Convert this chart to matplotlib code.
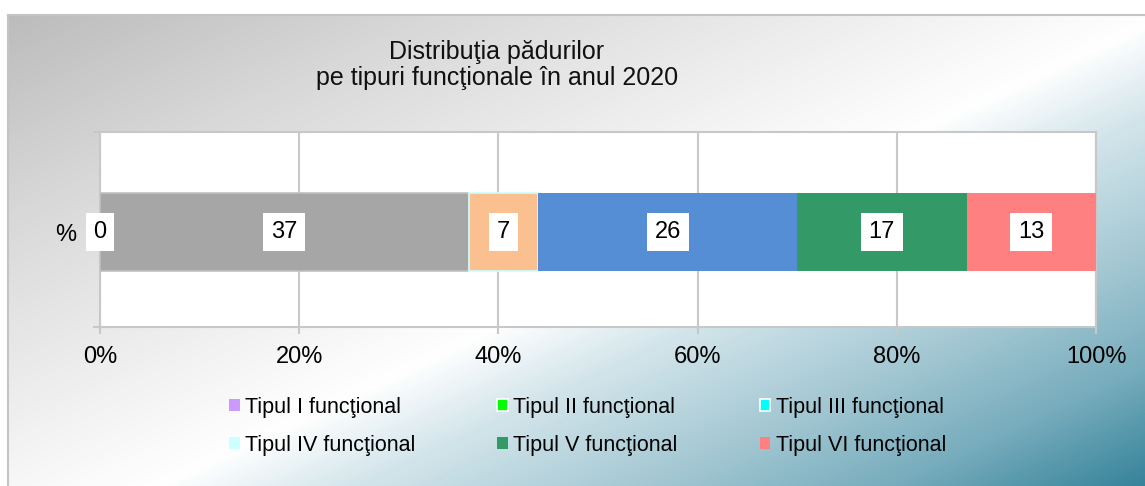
import matplotlib
matplotlib.use('Agg')
import matplotlib.pyplot as plt
from matplotlib.patches import Patch
from matplotlib.colors import LinearSegmentedColormap
import numpy as np

plt.rcParams['font.family'] = ['Liberation Sans', 'DejaVu Sans']

# data
series = ['Tipul I funcţional', 'Tipul II funcţional', 'Tipul III funcţional',
          'Tipul IV funcţional', 'Tipul V funcţional', 'Tipul VI funcţional']
values = [0, 37, 7, 26, 17, 13]
bar_colors = ['#cc99ff', '#a6a6a6', '#fac090', '#558ed5', '#339966', '#ff8080']
legend_colors = ['#cc99ff', '#00ff00', '#00ffff', '#ccffff', '#339966', '#ff8080']
legend_edges = ['none', 'white', 'white', 'none', 'none', 'none']
ticks = [0, 20, 40, 60, 80, 100]
title = 'Distribuţia pădurilor\npe tipuri funcţionale în anul 2020'

W, H = 1145, 486
fig = plt.figure(figsize=(W/100, H/100), dpi=100)

# chart area background gradient
bg = fig.add_axes([8/W, 0, (W-8)/W, (H-15)/H])
bw, bh = W-8, H-15
xx, yy = np.meshgrid(np.arange(bw), np.arange(bh))
t = (0.42*xx + 0.9*yy) / (0.42*bw + 0.9*bh)
cmap = LinearSegmentedColormap.from_list('bg', [
    (0.0, '#bcbcbc'), (0.2, '#d8d8d8'), (0.54, '#ffffff'),
    (0.63, '#d3e5eb'), (0.76, '#a6c9d4'), (0.88, '#78adbd'), (1.0, '#36839a')])
bg.imshow(t, cmap=cmap, vmin=0, vmax=1, aspect='auto', interpolation='bilinear')
bg.set_xticks([])
bg.set_yticks([])
for s in ['right', 'bottom']:
    bg.spines[s].set_visible(False)
for s in ['left', 'top']:
    bg.spines[s].set_color('#c4c4c4')
    bg.spines[s].set_linewidth(1.5)

ax = fig.add_axes([100/W, (H-327)/H, 996/W, 195/H])
ax.set_facecolor('white')

left = 0
for v, c in zip(values, bar_colors):
    ec = '#ccffff' if v == 7 else ('#c0c0c0' if v == 37 else 'none')
    ax.barh(1, v, left=left, height=0.4, color=c, edgecolor=ec, linewidth=1.2, zorder=3)
    ax.text(left + v/2, 1, str(v), ha='center', va='center', fontsize=17,
            color='#000000', zorder=4,
            bbox=dict(boxstyle='square,pad=0.33', fc='white', ec='none'))
    left += v

lo, hi = 0.513, 1.513
ax.set_xlim(0, 100)
ax.set_ylim(lo, hi)
ax.set_xticks(ticks, [f'{v}%' for v in ticks])
ax.set_yticks([lo, hi], ['', ''])
ax.set_yticks([1], ['%'], minor=True)
ax.tick_params(axis='y', which='minor', length=0, pad=17, labelsize=17)
ax.tick_params(axis='both', which='major', direction='out', length=5,
               color='#c8c8c8', width=1.5, labelsize=17)
ax.tick_params(axis='x', pad=9)
ax.grid(axis='x', color='#c8c8c8', linewidth=1.5, zorder=1)
ax.set_axisbelow(True)
for s in ax.spines.values():
    s.set_color('#c8c8c8')
    s.set_linewidth(1.5)

fig.text(497/W, 1 - 65/H, title, ha='center', va='center', fontsize=18,
         linespacing=1.08, color='#111111')

# legend is filled row by row in the reference
order = [0, 3, 1, 4, 2, 5]
handles = [Patch(facecolor=legend_colors[i], edgecolor=legend_edges[i], linewidth=1.2)
           for i in order]
labels = [series[i] for i in order]
fig.legend(handles, labels, ncol=3, loc='upper left',
           bbox_to_anchor=(229/W, 1 - 397/H), frameon=False, fontsize=15.5,
           handlelength=0.5, handleheight=0.5, handletextpad=0.25,
           columnspacing=3.8, labelspacing=0.78, borderpad=0, borderaxespad=0)

fig.savefig('out.png', dpi=100)
